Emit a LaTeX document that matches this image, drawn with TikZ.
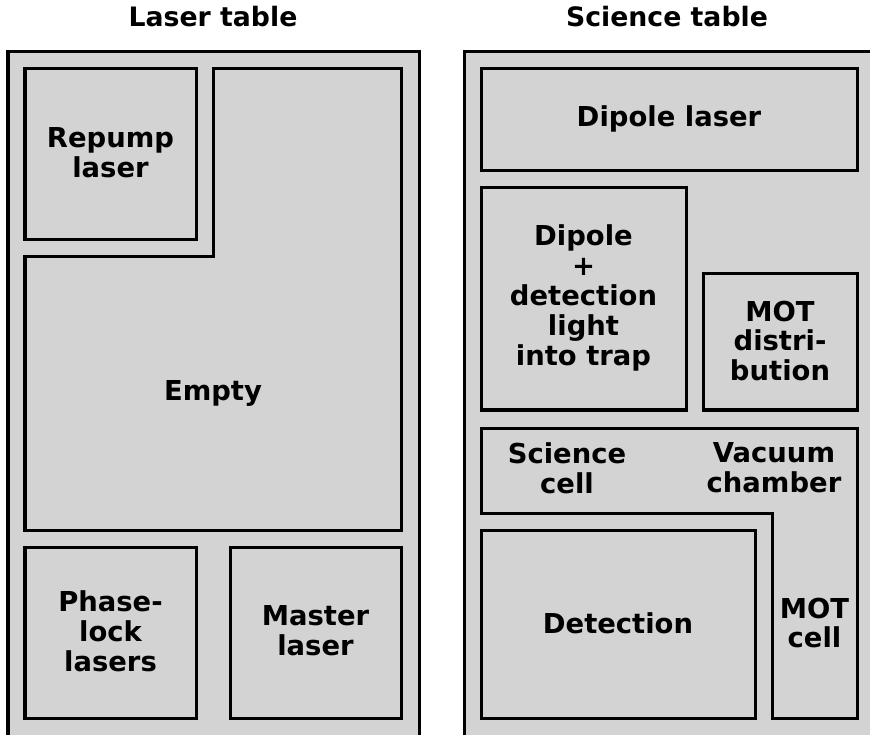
\documentclass[tikz,border=0pt]{standalone}
\usepackage{fontspec}
\setmainfont{DejaVu Sans}
\usetikzlibrary{positioning}
\definecolor{benchgrey}{HTML}{D3D3D3}

\tikzset{
  bench/.style={draw=black, fill=benchgrey, line width=0.075cm},
  area/.style={draw=black, fill=benchgrey, line width=0.075cm},
  areatext/.style={font=\bfseries\fontsize{19.5}{21.3}\selectfont, align=center, inner sep=0pt},
  benchtitle/.style={font=\bfseries\fontsize{19}{21}\selectfont, inner sep=0pt},
}

\begin{document}
\begin{tikzpicture}[x=0.025cm, y=-0.025cm]
  \useasboundingbox (0,0) rectangle (870,735);

  % the two optical tables
  \draw[bench] (8,52) rectangle (419,736);
  \draw[bench] (464,52) rectangle (890,736);
  \node[benchtitle] (lasertitle) at (213,17) {Laser table};
  \node[benchtitle] (sciencetitle) at (667,17) {Science table};

  % laser table
  \draw[area] (25,69) rectangle (196,240);
  \node[areatext] (repump) at (110.5,153) {Repump\\laser};
  \draw[area] (213,69) -- (401,69) -- (401,530) -- (25,530) -- (25,257) -- (213,257) -- cycle;
  \node[areatext] (empty) at (213,393) {Empty};
  \draw[area] (25,547) rectangle (196,718);
  \node[areatext] (phaselock) at (110.5,631) {Phase-\\lock\\lasers};
  \draw[area] (230,547) rectangle (401,718);
  \node[areatext] (master) at (315.5,631) {Master\\laser};

  % science table
  \draw[area] (481,69) rectangle (857,171);
  \node[areatext] (dipole) at (669,119) {Dipole laser};
  \draw[area] (481,188) rectangle (686,410);
  \node[areatext] (dipoledet) at (583.5,298) {Dipole\\+\\detection\\light\\into trap};
  \draw[area] (703,274) rectangle (857,410);
  \node[areatext] (motdist) at (780,341) {MOT\\distri-\\bution};
  \draw[area] (481,428) -- (857,428) -- (857,718) -- (772,718) -- (772,513) -- (481,513) -- cycle;
  \node[areatext] (scicell) at (567,468) {Science\\cell};
  \node[areatext] (vacuum) at (774,468) {Vacuum\\chamber};
  \node[areatext] (motcell) at (814.5,623) {MOT\\cell};
  \draw[area] (481,530) rectangle (755,718);
  \node[areatext] (detection) at (618,623) {Detection};
\end{tikzpicture}
\end{document}
